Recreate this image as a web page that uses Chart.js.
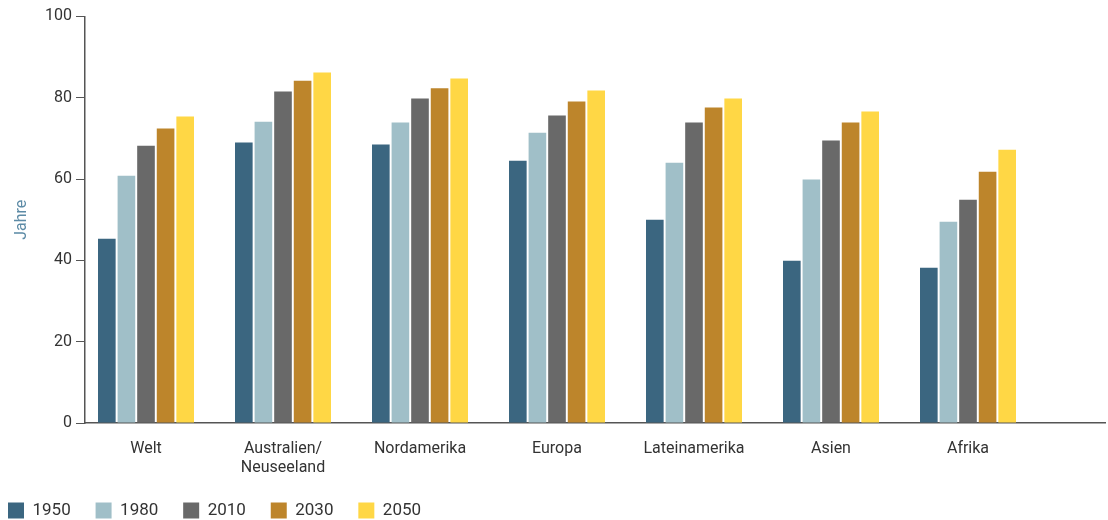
<!DOCTYPE html>
<html>
<head>
<meta charset="utf-8">
<script src="https://cdn.jsdelivr.net/npm/chart.js@4"></script>
<style>
  html, body { margin: 0; padding: 0; background: #fff; }
  #wrap { width: 1108px; height: 520px; }
</style>
</head>
<body>
<div id="wrap"><canvas id="lifeChart"></canvas></div>
<script>
// Lebenserwartung nach Region
const regionen = ['Welt', ['Australien/', 'Neuseeland'], 'Nordamerika', 'Europa', 'Lateinamerika', 'Asien', 'Afrika'];
const jahre = ['1950    ', '1980    ', '2010    ', '2030    ', '2050'];

const werte1950 = [45.3, 69.0, 68.5, 64.5, 50.0, 39.9, 38.2];
const werte1980 = [60.8, 74.1, 73.9, 71.4, 64.0, 59.9, 49.5];
const werte2010 = [68.2, 81.5, 79.8, 75.6, 73.9, 69.5, 54.9];
const werte2030 = [72.4, 84.2, 82.3, 79.1, 77.6, 73.9, 61.8];
const werte2050 = [75.4, 86.2, 84.7, 81.8, 79.8, 76.6, 67.2];

const yTicks = [0, 20, 40, 60, 80, 100];

const farben = ['#3b6680', '#a0bfc8', '#696969', '#bd852b', '#ffd745'];
const schrift = "'Roboto', sans-serif";

// x als lineare Achse, damit die Achse rechts über die letzte Gruppe hinausreicht
const toPoints = arr => arr.map((v, i) => ({ x: i, y: v }));

const ctx = document.getElementById('lifeChart').getContext('2d');

const lifeChart = new Chart(ctx, {
    type: 'bar',
    data: {
        datasets: [werte1950, werte1980, werte2010, werte2030, werte2050].map((d, k) => ({
            label: jahre[k],
            data: toPoints(d),
            backgroundColor: farben[k],
            borderWidth: 0,
            categoryPercentage: 0.715,
            barPercentage: 0.9
        }))
    },
    options: {
        responsive: true,
        maintainAspectRatio: false,
        animation: false,
        layout: { padding: { top: 16.4, right: 3, left: 0, bottom: -9 } },
        plugins: {
            tooltip: { enabled: false },
            legend: {
                position: 'bottom',
                align: 'start',
                labels: {
                    boxWidth: 16,
                    boxHeight: 16,
                    padding: 8,
                    color: '#333',
                    font: { family: schrift, size: 17 }
                }
            }
        },
        scales: {
            x: {
                type: 'linear',
                offset: false,
                min: -61 / 137,
                max: -61 / 137 + 1020 / 137,
                grid: { drawOnChartArea: false, drawTicks: false },
                border: { color: '#555', width: 1.5 },
                // feste Höhe, und kein Randabstand rechts durch das Tick-Padding
                afterFit: s => { s.height = 71; s.paddingRight = 0; },
                ticks: {
                    stepSize: 1,
                    includeBounds: false,
                    autoSkip: false,
                    maxRotation: 0,
                    padding: 16,
                    color: '#333',
                    font: { family: schrift, size: 16 },
                    callback: v => (Number.isInteger(v) && regionen[v] !== undefined) ? regionen[v] : ''
                }
            },
            y: {
                min: 0,
                max: 100,
                afterFit: s => { s.width = 85; },
                afterBuildTicks: s => { s.ticks = yTicks.map(v => ({ value: v })); },
                grid: { drawOnChartArea: false, drawTicks: true, tickLength: 9, color: '#555' },
                border: { color: '#555', width: 1.5 },
                ticks: {
                    padding: 4,
                    color: '#333',
                    font: { family: schrift, size: 16 }
                },
                title: {
                    display: true,
                    text: 'Jahre',
                    color: '#5d8ba6',
                    padding: { top: 12, bottom: 0 },
                    font: { family: schrift, size: 16 }
                }
            }
        }
    }
});
</script>
</body>
</html>
